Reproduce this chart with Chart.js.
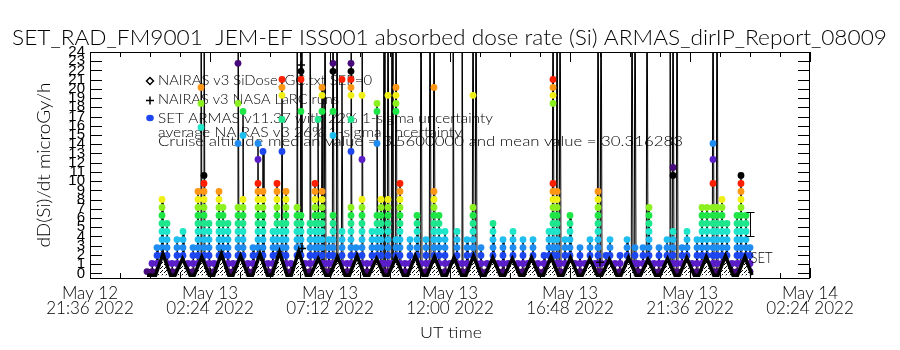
<!DOCTYPE html>
<html><head><meta charset="utf-8">
<script src="https://cdn.jsdelivr.net/npm/chart.js@4.4.1/dist/chart.umd.min.js"></script>
<style>html,body{margin:0;padding:0;background:#fff}#wrap{width:900px;height:350px}</style>
</head><body><div id="wrap"><canvas id="c" width="900" height="350"></canvas></div>
<script>
// ---------- text ----------
const titleText = "SET_RAD_FM9001  JEM-EF ISS001 absorbed dose rate (Si) ARMAS_dirIP_Report_08009";
const yTitle = "dD(Si)/dt microGy/h";
const xTitle = "UT time";
const legendLines = [
  "NAIRAS v3 SiDose_GC.txt SEP=0",
  "NAIRAS v3 NASA LaRC runs",
  "SET ARMAS v11.37 with 22% 1-sigma uncertainty",
  "average NAIRAS v3 26% 1-sigma uncertainty",
  "Cruise altitude median value = 3.5600000 and mean value = 30.316283"
];
// ---------- axes (x in hours since 2022-05-12 00:00 UT) ----------
const xTickHours = [21.6, 26.4, 31.2, 36.0, 40.8, 45.6, 50.4];
const xTickLabels = [["May 12","21:36 2022"],["May 13","02:24 2022"],["May 13","07:12 2022"],["May 13","12:00 2022"],["May 13","16:48 2022"],["May 13","21:36 2022"],["May 14","02:24 2022"]];
const yTickValues = [0,1,2,3,4,5,6,7,8,9,10,11,12,13,14,15,16,17,18,19,20,21,22,23,24];
// ---------- SET ARMAS dose-rate levels (quantised, microGy/h) ----------
const setLevels = [0.20,1.07,1.94,2.80,3.67,4.54,5.41,6.28,7.14,8.01,8.88,9.75,10.62,11.48,12.35,13.22,14.09,14.96,15.82,16.69,17.56,18.43,19.30,20.16,21.03,21.90,22.77];
// SET samples grouped by time: level indices present at each time ("a-b" = every level a..b)
const setColTimes = [23.88,24.08,24.28,24.48,24.68,24.88,25.08,25.32,25.52,25.72,25.92,26.04,26.16,26.36,26.56,26.76,26.92,27.12,27.32,27.52,27.72,27.92,28.12,28.32,28.52,28.72,28.92,29.08,29.28,29.44,29.64,29.88,30.04,30.20,30.40,30.60,30.72,30.88,31.00,31.16,31.32,31.48,31.68,31.88,32.04,32.24,32.48,32.68,32.88,33.08,33.24,33.36,33.52,33.68,33.84,34.00,34.20,34.40,34.68,34.84,35.04,35.20,35.36,35.56,35.80,36.00,36.12,36.28,36.48,36.68,36.92,37.04,37.24,37.48,37.72,37.92,38.12,38.32,38.52,38.72,38.92,39.12,39.32,39.52,39.76,39.96,40.12,40.28,40.40,40.60,40.80,41.00,41.20,41.40,41.60,41.80,41.92,42.04,42.24,42.40,42.60,42.80,43.08,43.28,43.40,43.52,43.72,43.88,43.96,44.16,44.36,44.52,44.68,44.80,44.92,45.08,45.28,45.48,45.68,45.88,46.08,46.28,46.52,46.68,46.88,47.08,47.28,47.48,47.64,47.84,48.00];
const setColLevels = ["0","0-1","0-3","0-9","0-6","0-1","0-4","0-5","0-1","0-3","0-10","0-1,18,21,23","0-12","0-6","0-1","0-10","0-8","0-6","0-1","0-8,16,21,26","0-9,17,20","0-1","0-3","0-11,14,16","0-10,15","0-1","0-5","0-11","0-6,15,19,22-24","0-10","0-1","0-8","0-7,20,24,25","0-1","0-6","0-11","0-7,19","0-10,20,22,23","0-1","0-4","0-7,17,20,25,26","0-1","0-5,24","0-1","0-8,15,19,22-26","0-3","0-9,14,22","0-1","0-5","0-7,16,20,21","0-9","0-1","0-9,22","0-1","0-4,20-23","0-11","0-1","0-4","0-7","0-1","0-4","0-1","0-10,23","0-7","0-5","0-1","0-1","0-5","0-1","0-4","0-8,22","0-1","0-3","0-1","0-6","0-1","0-4","0-1","0-5","0-1","0-4","0-1","0-4","0-1","0-2","0-5","0-11,21-24","0-10","0-1","0-4","0-7","0-1","0-3","0-1","0-4","0-1","0-10","0-1","0-2","0-4","0-1","0-2","0-4","0-1","0-3","0-1","0-3","0-1","0-8","0-1","0-3","0-1","0-4","0-1","0-5,12,13","0-1","0-3","0-5","0-1","0-4","0-8","0-8","0-8,11,14,16","0-8","0-9","0-6","0-1","0-7","0-12","0-7","0-3"];
// times where the SET trace leaves the top of the scale
const setSpikeTimes = [26.04,26.16,27.52,29.88,30.04,30.40,31.00,31.32,31.48,32.04,32.48,33.36,33.52,33.68,33.84,34.84,35.20,35.36,36.12,36.48,36.92,37.04,40.12,40.28,40.40,41.92,42.04,43.28,43.40,43.88,44.80,44.92,45.08,46.52,46.68];
const setOffScale = 40;
// ---------- NAIRAS v3 SiDose (vertices of the orbital modulation) ----------
const naiTimes = [23.88,24.22,24.52,24.82,25.00,25.30,25.60,25.77,26.07,26.37,26.55,26.85,27.15,27.32,27.62,27.92,28.10,28.40,28.70,28.88,29.18,29.48,29.65,29.95,30.25,30.43,30.73,31.03,31.20,31.50,31.80,31.98,32.28,32.58,32.76,33.06,33.36,33.53,33.83,34.13,34.31,34.61,34.91,35.08,35.38,35.68,35.86,36.16,36.46,36.64,36.94,37.24,37.41,37.71,38.01,38.19,38.49,38.79,38.96,39.26,39.56,39.74,40.04,40.34,40.52,40.82,41.12,41.29,41.59,41.89,42.07,42.37,42.67,42.84,43.14,43.44,43.62,43.92,44.22,44.40,44.70,45.00,45.17,45.47,45.77,45.95,46.25,46.55,46.72,47.02,47.32,47.50,47.80,48.08];
const naiVals  = [-0.2,-0.2,2.1,-0.2,-0.2,1.6,-0.2,-0.2,1.8,-0.2,-0.2,2.1,-0.2,-0.2,1.9,-0.2,-0.2,2.1,-0.2,-0.2,2.3,-0.2,-0.2,2.4,-0.2,-0.2,1.6,-0.2,-0.2,1.8,-0.2,-0.2,1.9,-0.2,-0.2,1.6,-0.2,-0.2,1.7,-0.2,-0.2,1.9,-0.2,-0.2,1.8,-0.2,-0.2,1.7,-0.2,-0.2,1.9,-0.2,-0.2,1.7,-0.2,-0.2,1.6,-0.2,-0.2,1.7,-0.2,-0.2,1.8,-0.2,-0.2,1.7,-0.2,-0.2,1.6,-0.2,-0.2,1.5,-0.2,-0.2,1.7,-0.2,-0.2,1.5,-0.2,-0.2,1.6,-0.2,-0.2,1.7,-0.2,-0.2,1.8,-0.2,-0.2,1.9,-0.2,-0.2,1.8,-0.2];
// ---------- NAIRAS NASA LaRC runs ----------
const larcTimes = [30.04, 30.08, 42.00];
const larcVals  = [22.6, 2.7, 1.2];
// ---------- SET uncertainty bar ----------
const errTime = 48.00, errCenter = 5.35, errHalf = 1.3;

// rainbow colour table that wraps through black every 13 levels
const levelPalette = ['#46087a','#5a1ec8','#1e46f0','#1e8cf0','#1ebef0','#1ee6c8','#1ee68c','#1ee646','#8cf01e','#f0f014','#ff9614','#ff1e00','#000000'];
function colorFor(v){ const k = Math.round((v-setLevels[0])/(setLevels[1]-setLevels[0])); return levelPalette[((k%13)+13)%13]; }
function parseLevels(spec){ const out=[]; spec.split(',').forEach(p=>{ const r=p.split('-').map(Number); if(r.length===1) out.push(r[0]); else for(let k=r[0];k<=r[1];k++) out.push(k); }); return out; }

const setPts = [], setLine = [];
setColTimes.forEach((t,i)=>{
  const ks = parseLevels(setColLevels[i]);
  ks.forEach(k=>setPts.push({x:t,y:setLevels[k]}));
  const spike = setSpikeTimes.some(s=>Math.abs(s-t)<1e-6);
  const peak = spike ? setOffScale : setLevels[ks[ks.length-1]];
  setLine.push({x:t-0.03,y:setLevels[0]},{x:t,y:peak},{x:t+0.04,y:setLevels[0]});
});
const naiPts = naiTimes.map((t,i)=>({x:t,y:naiVals[i]}));
const larcPts = larcTimes.map((t,i)=>({x:t,y:larcVals[i]}));

// sparse black-on-white texture imitating the overplotted diamond symbols
const pc=document.createElement('canvas'); pc.width=4; pc.height=4;
const pg=pc.getContext('2d'); pg.fillStyle='#fff'; pg.fillRect(0,0,4,4); pg.fillStyle='#000'; pg.fillRect(0,0,1,1); pg.fillRect(2,2,1,1); pg.fillRect(1,3,1,1);
const diamondTexture = pg.createPattern(pc,'repeat');

const TF = '"Lato","DejaVu Sans",sans-serif';
function fitText(c,text,x,y,w,font,align){
  c.save(); c.font=font; const m=c.measureText(text).width; const s=w/m;
  c.translate(align==='center'? x-w/2 : x, y); c.scale(s,1); c.textAlign='left'; c.fillText(text,0,0); c.restore();
}

const decor = {
  id:'decor',
  beforeDatasetsDraw(chart){
    // in-plot legend lies underneath the data, as in the original
    const c=chart.ctx; c.save(); c.fillStyle='#000'; c.strokeStyle='#000'; c.textBaseline='alphabetic';
    const lx=158, lys=[85,104,123,137,146], lw=[214,181,335,304,525];
    legendLines.forEach((t,i)=>fitText(c,t,lx,lys[i],lw[i],'300 14px '+TF));
    c.lineWidth=1.5;
    c.beginPath(); c.moveTo(150,77.5); c.lineTo(153.5,81); c.lineTo(150,84.5); c.lineTo(146.5,81); c.closePath(); c.stroke();
    c.beginPath(); c.moveTo(146,100.5); c.lineTo(154,100.5); c.moveTo(150,96.5); c.lineTo(150,104.5); c.stroke();
    c.fillStyle='#1e46f0'; c.beginPath(); c.ellipse(150,118,3.8,3.2,0,0,Math.PI*2); c.fill();
    c.restore();
  },
  afterDraw(chart){
    const c=chart.ctx, a=chart.chartArea, xs=chart.scales.x, ys=chart.scales.y;
    c.save(); c.fillStyle='#000'; c.strokeStyle='#000'; c.lineWidth=1; c.textBaseline='alphabetic';
    c.strokeRect(Math.round(a.left)+0.5,Math.round(a.top)+0.5,Math.round(a.right-a.left)-1,Math.round(a.bottom-a.top));
    c.beginPath();
    for(let h=xTickHours[0]; h<=xTickHours[xTickHours.length-1]+1e-6; h+=1.2){
      const px=Math.round(xs.getPixelForValue(h))+0.5;
      const major = xTickHours.some(v=>Math.abs(v-h)<1e-6); const L = major?10:5;
      c.moveTo(px,a.bottom); c.lineTo(px,a.bottom-L);
      c.moveTo(px,a.top); c.lineTo(px,a.top+L);
    }
    yTickValues.forEach(v=>{
      const py=Math.round(ys.getPixelForValue(v))+0.5;
      c.moveTo(a.left,py); c.lineTo(a.left+12,py);
      c.moveTo(a.right,py); c.lineTo(a.right-12,py);
    });
    c.stroke();
    const ex=Math.round(xs.getPixelForValue(errTime))+0.5, et=Math.round(ys.getPixelForValue(errCenter+errHalf))+0.5, eb=Math.round(ys.getPixelForValue(errCenter-errHalf))+0.5;
    c.beginPath(); c.moveTo(ex,et); c.lineTo(ex,eb);
    c.moveTo(ex-4,et); c.lineTo(ex+4,et); c.moveTo(ex-4,eb); c.lineTo(ex+4,eb); c.stroke();
    fitText(c,'SET',ex,263,22,'300 15px '+TF);
    fitText(c,titleText,12,45,875,'300 21px '+TF);
    fitText(c,xTitle,451,338,62,'300 16px '+TF,'center');
    c.save(); c.translate(50,165); c.rotate(-Math.PI/2); fitText(c,yTitle,0,0,165,'300 17px '+TF,'center'); c.restore();
    c.restore();
  }
};

new Chart(document.getElementById('c'),{
  type:'scatter',
  data:{datasets:[
    {type:'line',label:'NAIRAS v3 SiDose_GC',data:naiPts,borderColor:'#000',borderWidth:3.5,pointRadius:0,tension:0,order:1,clip:0,
      fill:{value:-0.2},backgroundColor:diamondTexture},
    {label:'NAIRAS v3 NASA LaRC',data:larcPts,pointStyle:'cross',pointRadius:4,borderColor:'#000',borderWidth:1.5,order:0},
    {label:'SET ARMAS',data:setPts,pointStyle:'circle',pointRadius:3.4,borderWidth:0,
      backgroundColor:(ctx)=>colorFor(ctx.raw? ctx.raw.y:0),order:2},
    {type:'line',label:'SET trace',data:setLine,borderColor:'#000',borderWidth:1,pointRadius:0,tension:0,order:3,clip:0}
  ]},
  options:{
    responsive:false, animation:false, devicePixelRatio:1,
    layout:{padding:{left:0,right:90,top:52,bottom:0}},
    plugins:{legend:{display:false},tooltip:{enabled:false},title:{display:false},filler:{propagate:false}},
    scales:{
      x:{type:'linear',min:21.6,max:50.4,
        afterBuildTicks:(s)=>{s.ticks=xTickHours.map(v=>({value:v}));},
        afterFit:(s)=>{s.height=72;},
        ticks:{autoSkip:false,maxRotation:0,minRotation:0,padding:8,color:'#000',
          font:{family:TF,size:17,weight:300,lineHeight:0.9},
          callback:(v,i)=>xTickLabels[i]},
        grid:{display:false,drawTicks:false},border:{display:false}},
      y:{type:'linear',min:-0.5,max:24,
        afterBuildTicks:(s)=>{s.ticks=yTickValues.map(v=>({value:v}));},
        afterFit:(s)=>{s.width=90;},
        ticks:{autoSkip:false,padding:5,color:'#000',
          font:{family:'"Liberation Sans Narrow","Liberation Sans"',size:15},
          callback:(v)=>String(v)},
        grid:{display:false,drawTicks:false},border:{display:false}}
    }
  },
  plugins:[decor]
});
</script></body></html>
